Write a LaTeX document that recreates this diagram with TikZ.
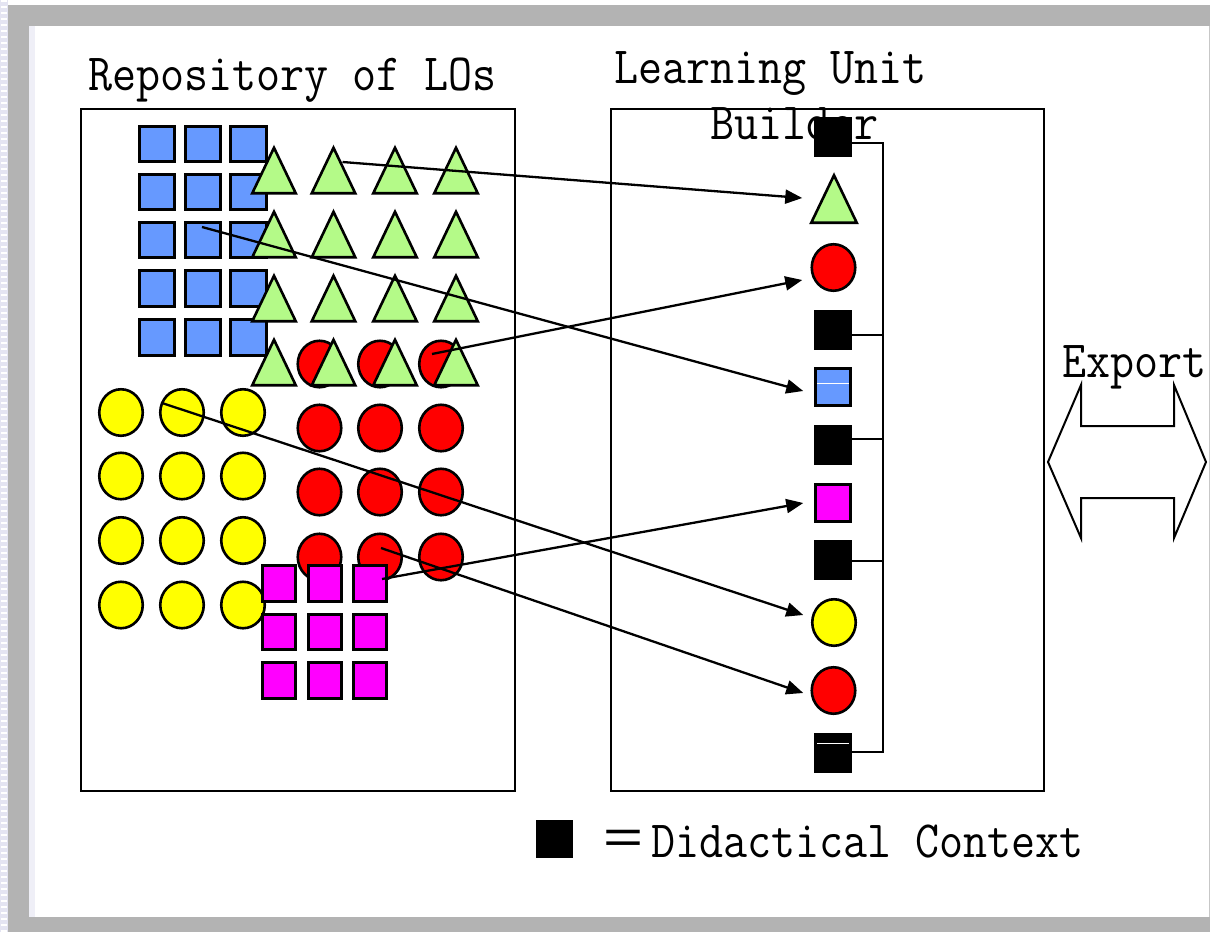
\documentclass[tikz,border=0pt]{standalone}
\usepackage{fontspec}
\usepackage{graphicx}
\newfontfamily\cjk{Noto Sans CJK SC}
\usetikzlibrary{arrows.meta,calc,shapes.geometric}
\definecolor{framegray}{RGB}{179,179,179}
\definecolor{lav}{RGB}{228,228,242}
\definecolor{loblue}{RGB}{102,153,255}
\definecolor{logreen}{RGB}{180,250,136}
\definecolor{lored}{RGB}{255,0,0}
\definecolor{loyellow}{RGB}{255,255,0}
\definecolor{lomagenta}{RGB}{255,0,255}
\newcommand\tallText[1]{\scalebox{1}[1.12]{#1}}
\tikzset{
 lbl/.style={inner sep=0,outer sep=0,font=\ttfamily\fontsize{46.7pt}{56pt}\selectfont},
 sq/.style={draw=black,line width=2.6pt,inner sep=0,outer sep=0,minimum width=35.5pt,minimum height=35.5pt},
 bsq/.style={sq,fill=loblue},
 msq/.style={sq,fill=lomagenta,minimum width=33.5pt,minimum height=35.5pt},
 ell/.style={ellipse,draw=black,line width=2.6pt,inner sep=0,outer sep=0,minimum width=43.5pt,minimum height=46.5pt},
 yc/.style={ell,fill=loyellow},
 rc/.style={ell,fill=lored},
 tri/.style={inner sep=0,outer sep=0,minimum width=43.5pt,minimum height=45.5pt,
   append after command={\pgfextra{\draw[line width=2.6pt,fill=logreen] (\tikzlastnode.south west) -- (\tikzlastnode.north) -- (\tikzlastnode.south east) -- cycle;}}},
 ctx/.style={fill=black,inner sep=0,outer sep=0,minimum width=38pt,minimum height=40pt},
 box/.style={draw=black,line width=2pt,inner sep=0,outer sep=0},
 conn/.style={line width=2.4pt},
 arr/.style={line width=2.3pt,-{Triangle[length=17pt,width=14pt]}},
}
\begin{document}
\begin{tikzpicture}[x=1pt,y=-1pt]
\useasboundingbox (0,0) rectangle (1210,932);
% background and frame
\fill[white] (0,0) rectangle (1210,932);
\fill[lav] (0,0) rectangle (8,932);
\foreach \k in {0,...,155} \fill[white] (1,6*\k) rectangle (7,6*\k+2);
\fill[framegray] (8,5) rectangle (1210,26);
\fill[framegray] (8,5) rectangle (29,932);
\fill[framegray] (8,917) rectangle (1210,932);
\fill[lav!60] (29,26) rectangle (35,917);
\fill[black!22] (1209,26) rectangle (1210,917);

% titles and boxes
\node[lbl,anchor=base west] (repotitle) at (88,90) {\tallText{Repository of LOs}};
\node[box,minimum width=434pt,minimum height=682pt] (repo) at (298,450) {};
\node[box,minimum width=433pt,minimum height=682pt] (builder) at (827.5,450) {};
\node[lbl,anchor=base west] (lutitle1) at (614,83) {\tallText{Learning Unit}};
\node[lbl,anchor=base west] (lutitle2) at (710,139) {\tallText{Builder}};

% blue squares
\foreach \c/\x in {1/157,2/203,3/248.5}
  \foreach \r/\y in {1/144,2/192,3/240,4/288.5,5/337.5}
    \node[bsq] (bl\r\c) at (\x,\y) {};
% yellow circles
\foreach \c/\x in {1/121,2/182,3/243}
  \foreach \r/\y in {1/412.5,2/476,3/540.5,4/605}
    \node[yc] (yl\r\c) at (\x,\y) {};
% red circles
\foreach \c/\x in {1/319.5,2/380,3/441}
  \foreach \r/\y in {1/364,2/428,3/492,4/557}
    \node[rc] (rd\r\c) at (\x,\y) {};
% green triangles
\foreach \r/\y in {1/170.5,2/234.5,3/298.5,4/362.5}
  \foreach \c/\x in {1/274,2/333.5,3/395,4/456}
    \node[tri] (tr\r\c) at (\x,\y) {};
% magenta squares
\foreach \c/\x in {1/279,2/325,3/370}
  \foreach \r/\y in {1/583.5,2/632,3/680.5}
    \node[msq] (mg\r\c) at (\x,\y) {};

% learning unit column
\node[ctx] (c1) at (833,137) {};
\node[tri,minimum width=45.5pt,minimum height=47.5pt] (rtri) at (834,199) {};
\node[rc] (rred1) at (833.5,267.5) {};
\node[ctx] (c2) at (833,330) {};
\node[sq,fill=loblue,minimum height=37.5pt] (rblue) at (833,387) {};
\node[ctx] (c3) at (833,445) {};
\node[sq,fill=lomagenta,minimum height=37.5pt] (rmag) at (833,503) {};
\node[ctx] (c4) at (833,560) {};
\node[yc] (ryel) at (834,622.5) {};
\node[rc] (rred2) at (833.5,690.5) {};
\node[ctx] (c5) at (833,753) {};
\draw[white,line width=1pt] ($(rblue.west)+(2,-4)$) -- ($(rblue.east)+(-2,-4)$);
\draw[white,line width=1pt] ($(c5.west)+(3,-10)$) -- ($(c5.east)+(-3,-10)$);

% bracket
\draw[conn] ($(c1.east)+(0,6)$) -| ($(c5.east)+(31,-1)$) -- ($(c5.east)+(0,-1)$);
\draw[conn] ($(c2.east)+(0,5)$) -- ++(31,0);
\draw[conn] ($(c3.east)+(0,-6)$) -- ++(31,0);
\draw[conn] ($(c4.east)+(0,1)$) -- ++(31,0);

% arrows
\coordinate (s1) at ($(tr12)+(9,-8.5)$);
\coordinate (s2) at ($(bl32)+(-1,-13)$);
\coordinate (s3) at ($(rd13)+(-9,-10)$);
\coordinate (s4) at ($(yl12)+(-20,-9.5)$);
\coordinate (s5) at ($(mg13)+(12,-4.5)$);
\coordinate (s6) at ($(rd42)+(1,-9)$);
\draw[arr] (s1) -- ($(rtri.west)+(-9,-1)$);
\draw[arr] (s2) -- ($(rblue.west)+(-12,4)$);
\draw[arr] (s3) -- ($(rred1.west)+(-9.5,12.5)$);
\draw[arr] (s4) -- ($(ryel.west)+(-9,-7.5)$);
\draw[arr] (s5) -- ($(rmag.west)+(-12,0)$);
\draw[arr] (s6) -- ($(rred2.west)+(-8.5,2.5)$);

% export
\node[lbl,anchor=base west] (export) at (1062,377) {\tallText{Export}};
\draw[line width=2pt,fill=white] (1048,462) -- (1081,385) -- (1081,426) -- (1174,426) -- (1174,385) -- (1206,462) -- (1174,538) -- (1174,498) -- (1081,498) -- (1081,538) -- cycle;

% legend
\node[ctx,minimum width=37pt,minimum height=38pt] (legend) at (554.5,839) {};
\node[lbl,anchor=base west] (legendtext) at (600,857) {\tallText{{\cjk\fontsize{46pt}{56pt}\selectfont ＝}\hspace{5pt}Didactical Context}};
\end{tikzpicture}
\end{document}
